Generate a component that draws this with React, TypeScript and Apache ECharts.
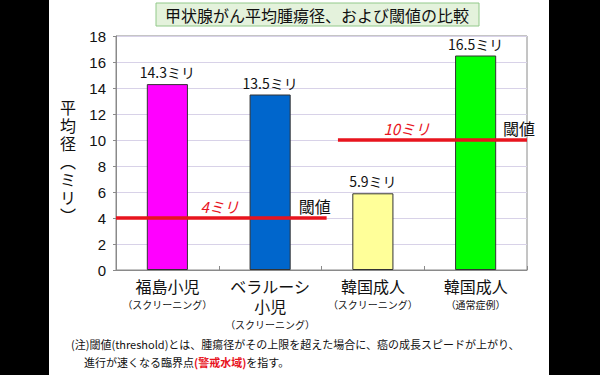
import React, { useEffect, useRef } from "react";
import * as echarts from "echarts";

const catMain = ["福島小児", "ベラルーシ\n小児", "韓国成人", "韓国成人"];
const catSub = ["（スクリーニング）", "（スクリーニング）", "（スクリーニング）", "（通常症例）"];
const values = [14.3, 13.5, 5.9, 16.5];
const barColors = ["#FF00FF", "#0066CC", "#FFFF99", "#00FF00"];
const thresholds = [4, 10];
const thresholdLabels = ["4ミリ", "10ミリ"];
const yMin = 0;
const yMax = 18;
const yInterval = 2;

const titleText = "甲状腺がん平均腫瘍径、および閾値の比較";
const yNameChars = ["平", "均", "径", "︵", "ミ", "リ", "︶"];

const JP = '"Noto Sans CJK JP", "Noto Sans", sans-serif';
const NUM = '"Liberation Sans", Arial, sans-serif';

export default function App() {
  const ref = useRef<HTMLDivElement>(null);
  useEffect(() => {
    document.body.style.margin = "0";
    const chart = echarts.init(ref.current!, null, { renderer: "svg" });

    const lineSpans = [
      { from: 0, to: 2.05, labelAt: 1.01, endOffset: -12 },
      { from: 2.16, to: 4.0, labelAt: 2.83, endOffset: -8 },
    ];

    const thresholdSeries = thresholds.map((t, i) => {
      const s = lineSpans[i];
      return {
        type: "line",
        xAxisIndex: 1,
        yAxisIndex: 0,
        symbol: "circle",
        symbolSize: 0,
        lineStyle: { color: "#E8141E", width: 3.5 },
        itemStyle: { color: "#E8141E" },
        z: 5,
        data: [
          { value: [s.from, t], label: { show: false } },
          {
            value: [s.labelAt, t],
            label: {
              show: true,
              position: "top",
              distance: 4,
              formatter: thresholdLabels[i],
              color: "#E8141E",
              fontStyle: "italic",
              fontSize: 15,
              fontFamily: JP,
            },
          },
          {
            value: [s.to, t],
            label: {
              show: true,
              position: "top",
              distance: 4,
              offset: [s.endOffset, 0],
              formatter: "閾値",
              color: "#111",
              fontSize: 16,
              fontFamily: JP,
            },
          },
        ],
      };
    });

    const graphics: any[] = [
      { type: "rect", shape: { x: 0, y: 0, width: 49, height: 375 }, style: { fill: "#000" }, silent: true },
      { type: "rect", shape: { x: 549, y: 0, width: 51, height: 375 }, style: { fill: "#000" }, silent: true },
      {
        type: "rect",
        shape: { x: 156, y: 3, width: 323, height: 23 },
        style: { fill: "#E4F2DC", stroke: "#92C98A", lineWidth: 1 },
      },
      {
        type: "text",
        x: 317,
        y: 15,
        style: {
          text: titleText,
          fontSize: 16,
          fontFamily: JP,
          fill: "#111",
          align: "center",
          verticalAlign: "middle",
        },
      },
      {
        type: "text",
        x: 71,
        y: 344,
        style: {
          text: "(注)閾値(threshold)とは、腫瘍径がその上限を超えた場合に、癌の成長スピードが上がり、",
          fontSize: 11,
          fontFamily: JP,
          fill: "#111",
          verticalAlign: "middle",
        },
      },
      {
        type: "text",
        x: 84,
        y: 362,
        style: {
          text: "進行が速くなる臨界点{r|(警戒水域)}を指す。",
          fontSize: 11,
          fontFamily: JP,
          fill: "#111",
          verticalAlign: "middle",
          rich: {
            r: { fill: "#E8141E", fontWeight: "bold", fontSize: 11, fontFamily: JP },
          },
        },
      },
      {
        type: "text",
        x: 68,
        y: 161,
        style: {
          text: yNameChars.join("\n"),
          fontSize: 16,
          lineHeight: 18,
          fontFamily: JP,
          fill: "#111",
          align: "center",
          verticalAlign: "middle",
        },
      },
    ];

    chart.setOption({
      animation: false,
      backgroundColor: "#fff",
      grid: {
        left: 116,
        right: 73,
        top: 36,
        bottom: 105,
        show: true,
        borderColor: "#8A8A8A",
        borderWidth: 1,
        backgroundColor: "transparent",
      },
      xAxis: [
        {
          type: "category",
          data: catMain,
          axisLine: { lineStyle: { color: "#8A8A8A" } },
          axisTick: { show: true, inside: true, length: 4, lineStyle: { color: "#8A8A8A" } },
          axisLabel: {
            interval: 0,
            margin: 6,
            formatter: (v: string, idx: number) =>
              v
                .split("\n")
                .map((l) => `{m|${l}}`)
                .join("\n") + `\n{s|${catSub[idx]}}`,
            rich: {
              m: { fontSize: 16, lineHeight: 20, fontFamily: JP, color: "#111" },
              s: { fontSize: 10, lineHeight: 16, fontFamily: JP, color: "#111" },
            },
          },
        },
        { type: "value", min: 0, max: 4, show: false },
      ],
      yAxis: {
        type: "value",
        min: yMin,
        max: yMax,
        interval: yInterval,
        axisLine: { show: true, lineStyle: { color: "#8A8A8A" } },
        axisTick: { show: true, length: 3, lineStyle: { color: "#8A8A8A" } },
        axisLabel: { fontSize: 15, fontFamily: NUM, color: "#111", margin: 10 },
        splitLine: { lineStyle: { color: "#D8D2E8", width: 1 } },
      },
      series: [
        {
          type: "bar",
          data: values.map((v, i) => ({ value: v, itemStyle: { color: barColors[i] } })),
          barWidth: "40%",
          itemStyle: { borderColor: "#333", borderWidth: 1 },
          label: {
            show: true,
            position: "top",
            distance: 5,
            formatter: (p: any) => `${p.value}ミリ`,
            fontSize: 14,
            fontFamily: JP,
            color: "#111",
          },
          z: 3,
        },
        ...thresholdSeries,
      ],
      graphic: graphics,
    });
    return () => chart.dispose();
  }, []);
  return (
    <div
      ref={ref}
      style={{ position: "fixed", left: 0, top: 0, width: 600, height: 375 }}
    />
  );
}
